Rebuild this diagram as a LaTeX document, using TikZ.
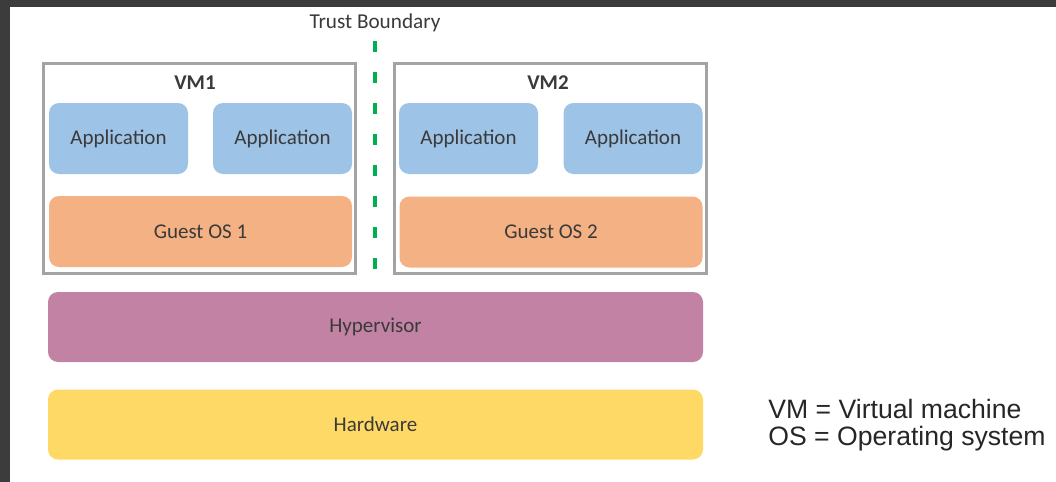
\documentclass[tikz,border=0pt]{standalone}
\usepackage{fontspec}
\setmainfont{Carlito}
\newfontfamily\legendfont{Liberation Sans}
\usetikzlibrary{calc, backgrounds}

\definecolor{appblue}{HTML}{9DC3E6}
\definecolor{osorange}{HTML}{F4B183}
\definecolor{hvpurple}{HTML}{C282A4}
\definecolor{hwyellow}{HTML}{FFD966}
\definecolor{vmgray}{HTML}{A3A3A3}
\definecolor{tbgreen}{HTML}{00B050}
\definecolor{txtgray}{HTML}{3A3A3A}
\definecolor{framedark}{HTML}{3C3C3C}

\tikzset{
  layer/.style={rounded corners=5pt, inner sep=0pt, font=\fontsize{10.5}{12}\selectfont, text=txtgray},
  app/.style={layer, fill=appblue, minimum width=69.5pt, minimum height=35.5pt},
  guest/.style={layer, fill=osorange, minimum width=151.5pt, minimum height=35.5pt},
  wide/.style={layer, minimum width=327.5pt, minimum height=35pt},
  vmbox/.style={draw=vmgray, line width=1.5pt, fill=white, minimum width=156pt, minimum height=105pt},
}

\begin{document}
\begin{tikzpicture}[x=0.5pt,y=-0.5pt]
\useasboundingbox (0,0) rectangle (1056,482);
\fill[white] (0,0) rectangle (1056,482);
\fill[framedark] (0,0) rectangle (1056,7);
\fill[framedark] (0,0) rectangle (10,482);

% virtual machines
\node[vmbox] (vm1) at (199.5,168.5) {};
\node[vmbox] (vm2) at (550,168.5) {};
\node[font=\fontsize{10.5}{12}\selectfont\bfseries, text=txtgray] (vm1lbl) at (195,83) {VM1};
\node[font=\fontsize{10.5}{12}\selectfont\bfseries, text=txtgray] (vm2lbl) at (548,83) {VM2};

\node[app] (app1a) at (118.5,138.5) {Application};
\node[app] (app1b) at (282.5,138.5) {Application};
\node[app] (app2a) at (468.5,138.5) {Application};
\node[app] (app2b) at (633,138.5) {Application};

\node[guest] (os1) at (200.5,231.5) {Guest OS 1};
\node[guest] (os2) at (551,232) {Guest OS 2};

% shared layers
\node[wide, fill=hvpurple] (hyp) at (375.5,327) {Hypervisor};
\node[wide, fill=hwyellow] (hw) at (375.5,424.5) {Hardware};

% trust boundary
\node[font=\fontsize{10.6}{12}\selectfont, text=txtgray] (tb) at (375,23) {Trust Boundary};
\coordinate (tbtop) at (375,41);
\coordinate (tbbot) at (375,282);
\draw[tbgreen, line width=2pt, dash pattern=on 5.5pt off 10pt] (tbtop) -- (tbbot);

% legend
\node[anchor=west, align=left, inner sep=0pt, font=\legendfont\fontsize{13.3}{13.3}\selectfont, text=black!85] (legend) at (768,425)
  {VM = Virtual machine\\OS = Operating system};
\end{tikzpicture}
\end{document}
